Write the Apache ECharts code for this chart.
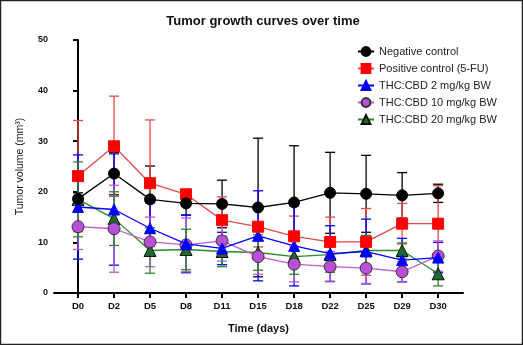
<!DOCTYPE html>
<html>
<head>
<meta charset="utf-8">
<script src="https://cdn.jsdelivr.net/npm/echarts@6/dist/echarts.min.js"></script>
<style>
  html, body { margin: 0; padding: 0; background: #fff; }
  #chart { width: 523px; height: 345px; }
</style>
</head>
<body>
<div id="chart"></div>
<script>
// tick labels on x
const days = ['D0', 'D2', 'D5', 'D8', 'D11', 'D15', 'D18', 'D22', 'D25', 'D29', 'D30']

// mean +/- error for each group (mm3)
const negMean = [18.6, 23.6, 18.5, 17.7, 17.6, 16.9, 17.9, 19.8, 19.6, 19.3, 19.7]
const negErr = [1.2, 4.2, 6.6, 2.3, 4.7, 13.7, 11.2, 8.0, 7.6, 4.5, 1.8]
const posMean = [23.1, 29.0, 21.7, 19.5, 14.4, 13.1, 11.2, 10.1, 10.1, 13.7, 13.7]
const posErr = [11.0, 9.9, 12.5, 1.0, 4.6, 4.0, 4.0, 4.9, 6.6, 4.0, 7.5]
const lowMean = [17.0, 16.5, 12.8, 9.7, 8.8, 11.3, 9.3, 7.8, 8.2, 6.5, 7.0]
const lowErr = [10.3, 11.0, 5.0, 5.7, 3.2, 8.9, 7.9, 5.5, 6.4, 4.3, 3.0]
const midMean = [13.1, 12.7, 10.1, 9.5, 10.3, 7.2, 5.7, 5.2, 4.9, 4.2, 7.3]
const midErr = [4.5, 8.6, 4.9, 5.3, 4.0, 3.5, 3.5, 3.0, 3.0, 2.0, 3.0]
const highMean = [18.5, 14.7, 8.4, 8.6, 8.2, 8.0, 7.2, 7.6, 8.4, 8.4, 3.8]
const highErr = [7.4, 5.3, 4.5, 4.0, 3.0, 3.5, 3.5, 3.5, 3.0, 1.5, 2.4]

const groups = [
  { name: 'Negative control', mean: negMean, err: negErr, line: '#000000', fill: '#000000', border: '#000000', symbol: 'circle', size: 11 },
  { name: 'Positive control (5-FU)', mean: posMean, err: posErr, line: '#e8474a', fill: '#ff0000', border: '#ff0000', symbol: 'rect', size: 11 },
  { name: 'THC:CBD 2 mg/kg BW', mean: lowMean, err: lowErr, line: '#0000ff', fill: '#0000ff', border: '#0000ff', symbol: 'triangle', size: 11 },
  { name: 'THC:CBD 10 mg/kg BW', mean: midMean, err: midErr, line: '#c05ad0', fill: '#b94fd9', border: '#333333', symbol: 'circle', size: 12 },
  { name: 'THC:CBD 20 mg/kg BW', mean: highMean, err: highErr, line: '#2a8a2a', fill: '#1d6b2a', border: '#111111', symbol: 'triangle', size: 12 }
]

const idx = days.map((d, i) => i)
const font = 'Liberation Sans, Arial, sans-serif'

function errorBars(g) {
  return {
    type: 'custom',
    name: g.name + ' (SD)',
    z: 1,
    silent: true,
    data: idx.map(i => [i, g.mean[i], g.err[i]]),
    renderItem: function(params, api) {
      const x = api.value(0)
      const m = api.value(1)
      const e = api.value(2)
      const top = api.coord([x, m + e])
      const bot = api.coord([x, Math.max(m - e, 0)])
      const hw = 5
      const style = { stroke: g.line, lineWidth: 1.3 }
      return {
        type: 'group',
        children: [
          { type: 'line', shape: { x1: top[0], y1: top[1], x2: bot[0], y2: bot[1] }, style: style },
          { type: 'line', shape: { x1: top[0] - hw, y1: top[1], x2: top[0] + hw, y2: top[1] }, style: style },
          { type: 'line', shape: { x1: bot[0] - hw, y1: bot[1], x2: bot[0] + hw, y2: bot[1] }, style: style }
        ]
      }
    }
  }
}

const series = []
groups.forEach((g, i) => {
  series.push({
    type: 'line',
    name: g.name,
    // first group drawn on top
    z: 10 - i,
    data: idx.map(k => [k, g.mean[k]]),
    symbol: g.symbol,
    symbolSize: g.size,
    showAllSymbol: true,
    color: g.fill,
    lineStyle: { color: g.line, width: 1.3 },
    itemStyle: { color: g.fill, borderColor: g.border, borderWidth: 1 }
  })
})
groups.forEach(g => series.push(errorBars(g)))

const chart = echarts.init(document.getElementById('chart'))
chart.setOption({
  animation: false,
  textStyle: { fontFamily: font },
  title: {
    text: 'Tumor growth curves over time',
    left: 258,
    textAlign: 'center',
    top: 10,
    textStyle: { fontSize: 13, fontWeight: 'bold', color: '#111', fontFamily: font }
  },
  graphic: [{
    type: 'rect',
    shape: { x: 0.5, y: 0.5, width: 522, height: 344 },
    style: { fill: 'none', stroke: '#222', lineWidth: 1.5 },
    silent: true
  }],
  legend: {
    data: groups.map(g => g.name),
    orient: 'vertical',
    left: 352,
    top: 41,
    itemGap: 6,
    itemWidth: 16,
    itemHeight: 11,
    textStyle: { fontSize: 11, color: '#222', fontFamily: font }
  },
  grid: { left: 54, right: 60, top: 40, bottom: 52 },
  xAxis: {
    type: 'value',
    min: -0.667,
    max: 10.69,
    name: 'Time (days)',
    nameLocation: 'middle',
    nameGap: 30,
    nameTextStyle: { fontSize: 11, fontWeight: 'bold', color: '#111', fontFamily: font },
    splitLine: { show: false },
    axisLine: { lineStyle: { color: '#000', width: 2 } },
    axisTick: { customValues: idx, length: 5, lineStyle: { color: '#000', width: 2 } },
    axisLabel: {
      customValues: idx,
      formatter: v => days[Math.round(v)],
      fontSize: 9.5,
      fontWeight: 'bold',
      color: '#111',
      margin: 8
    }
  },
  yAxis: {
    type: 'value',
    min: 0,
    max: 50,
    interval: 10,
    name: 'Tumor volume (mm³)',
    nameLocation: 'middle',
    nameGap: 28,
    nameTextStyle: { fontSize: 10.5, color: '#111', fontFamily: font },
    splitLine: { show: false },
    axisLine: { show: true, lineStyle: { color: '#000', width: 2 } },
    axisTick: { show: true, length: 5, lineStyle: { color: '#000', width: 2 } },
    axisLabel: { fontSize: 9, fontWeight: 'bold', color: '#111', margin: 6 }
  },
  series: series
})
</script>
</body>
</html>
